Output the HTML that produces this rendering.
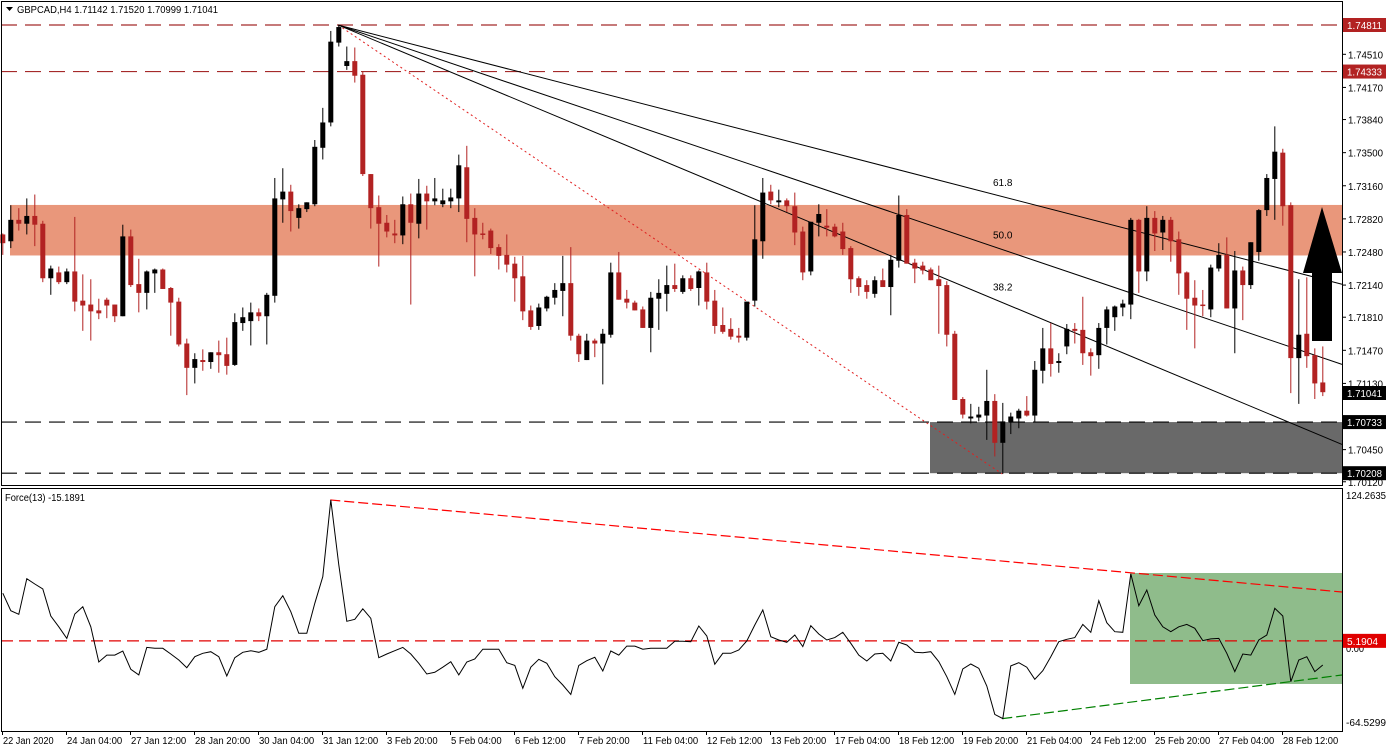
<!DOCTYPE html>
<html><head><meta charset="utf-8"><title>GBPCAD H4</title>
<style>
html,body{margin:0;padding:0;background:#fff;}
svg{display:block;font-family:"Liberation Sans",sans-serif;font-size:10px;}
</style></head>
<body>
<svg id="chart" width="1390" height="751" viewBox="0 0 1390 751" xmlns="http://www.w3.org/2000/svg">
<rect x="0" y="0" width="1390" height="751" fill="#fff"/>
<g id="main"></g>
<g id="ind"></g>
<g id="axes"></g>
</svg>
<script>
const opens=[1.7266,1.7259,1.7281,1.7277,1.7285,1.7277,1.7221,1.7227,1.7217,1.7228,
1.7198,1.7194,1.7188,1.7199,1.7194,1.7182,1.7264,1.7215,1.7206,1.7226,
1.7230,1.7211,1.7197,1.7154,1.7129,1.7137,1.7135,1.7145,1.7143,1.7132,
1.7175,1.7177,1.7186,1.7182,1.7203,1.7302,1.7310,1.7283,1.7292,1.7297,
1.7355,1.7381,1.7463,1.7439,1.7444,1.7430,1.7328,1.7294,1.7278,1.7267,
1.7265,1.7297,1.7277,1.7308,1.7300,1.7297,1.7300,1.7303,1.7335,1.7283,
1.7267,1.7270,1.7253,1.7245,1.7236,1.7223,1.7188,1.7172,1.7190,1.7201,
1.7208,1.7216,1.7162,1.7137,1.7157,1.7154,1.7163,1.7227,1.7200,1.7196,
1.7189,1.7170,1.7200,1.7205,1.7214,1.7207,1.7221,1.7211,1.7227,1.7198,
1.7173,1.7169,1.7162,1.7160,1.7198,1.7259,1.7310,1.7299,1.7301,1.7295,
1.7269,1.7228,1.7278,1.7275,1.7274,1.7269,1.7252,1.7221,1.7214,1.7205,
1.7219,1.7212,1.7239,1.7286,1.7237,1.7234,1.7230,1.7220,1.7214,1.7164,
1.7097,1.7077,1.7078,1.7080,1.7095,1.7052,1.7073,1.7077,1.7085,1.7080,
1.7126,1.7149,1.7134,1.7151,1.7169,1.7168,1.7145,1.7142,1.7170,1.7181,
1.7191,1.7194,1.7281,1.7228,1.7283,1.7268,1.7281,1.7261,1.7227,1.7201,
1.7194,1.7189,1.7231,1.7245,1.7190,1.7229,1.7214,1.7248,1.7291,1.7323,
1.7350,1.7296,1.7139,1.7164,1.7142,1.7114];
const highs=[1.7267,1.7296,1.7293,1.7303,1.7307,1.7280,1.7234,1.7233,1.7231,1.7284,
1.7225,1.7220,1.7200,1.7201,1.7194,1.7276,1.7271,1.7241,1.7229,1.7231,
1.7231,1.7212,1.7201,1.7159,1.7144,1.7148,1.7145,1.7157,1.7160,1.7185,
1.7191,1.7196,1.7190,1.7206,1.7324,1.7334,1.7317,1.7297,1.7299,1.7363,
1.7396,1.7475,1.7481,1.7459,1.7458,1.7433,1.7328,1.7306,1.7286,1.7281,
1.7305,1.7308,1.7323,1.7316,1.7324,1.7313,1.7313,1.7348,1.7357,1.7293,
1.7278,1.7272,1.7256,1.7266,1.7243,1.7244,1.7193,1.7195,1.7203,1.7216,
1.7244,1.7253,1.7164,1.7164,1.7159,1.7169,1.7237,1.7248,1.7209,1.7198,
1.7192,1.7207,1.7220,1.7234,1.7236,1.7224,1.7224,1.7229,1.7237,1.7209,
1.7191,1.7180,1.7170,1.7197,1.7296,1.7324,1.7317,1.7312,1.7303,1.7309,
1.7274,1.7279,1.7297,1.7292,1.7277,1.7278,1.7254,1.7223,1.7219,1.7223,
1.7231,1.7245,1.7306,1.7292,1.7241,1.7238,1.7232,1.7234,1.7218,1.7167,
1.7099,1.7092,1.7089,1.7127,1.7102,1.7093,1.7083,1.7087,1.7100,1.7136,
1.7170,1.7175,1.7144,1.7174,1.7175,1.7202,1.7149,1.7175,1.7192,1.7193,
1.7199,1.7283,1.7282,1.7295,1.7290,1.7285,1.7284,1.7269,1.7228,1.7219,
1.7209,1.7235,1.7257,1.7263,1.7249,1.7233,1.7258,1.7292,1.7328,1.7377,
1.7354,1.7299,1.7220,1.7222,1.7149,1.7151];
const lows=[1.7245,1.7252,1.7270,1.7266,1.7254,1.7217,1.7204,1.7215,1.7215,1.7187,
1.7167,1.7157,1.7179,1.7180,1.7176,1.7182,1.7212,1.7186,1.7189,1.7206,
1.7210,1.7162,1.7151,1.7101,1.7113,1.7126,1.7128,1.7124,1.7122,1.7131,
1.7167,1.7152,1.7177,1.7153,1.7196,1.7278,1.7269,1.7272,1.7289,1.7295,
1.7343,1.7377,1.7459,1.7435,1.7422,1.7326,1.7272,1.7233,1.7263,1.7257,
1.7256,1.7194,1.7262,1.7271,1.7296,1.7294,1.7293,1.7289,1.7258,1.7223,
1.7261,1.7246,1.7230,1.7227,1.7197,1.7178,1.7168,1.7168,1.7187,1.7194,
1.7182,1.7157,1.7135,1.7137,1.7140,1.7112,1.7160,1.7199,1.7190,1.7188,
1.7170,1.7145,1.7168,1.7187,1.7207,1.7205,1.7208,1.7193,1.7189,1.7164,
1.7164,1.7158,1.7155,1.7157,1.7192,1.7241,1.7297,1.7294,1.7289,1.7255,
1.7219,1.7224,1.7264,1.7264,1.7263,1.7245,1.7206,1.7203,1.7200,1.7201,
1.7212,1.7183,1.7232,1.7236,1.7216,1.7225,1.7219,1.7164,1.7151,1.7096,
1.7077,1.7072,1.7074,1.7055,1.7038,1.7020,1.7061,1.7067,1.7079,1.7073,
1.7113,1.7120,1.7124,1.7143,1.7154,1.7132,1.7121,1.7128,1.7153,1.7167,
1.7182,1.7179,1.7206,1.7218,1.7249,1.7250,1.7238,1.7204,1.7168,1.7149,
1.7182,1.7181,1.7228,1.7190,1.7144,1.7178,1.7210,1.7239,1.7285,1.7281,
1.7275,1.7103,1.7092,1.7129,1.7097,1.7100];
const closes=[1.7257,1.7281,1.7277,1.7285,1.7276,1.7221,1.7231,1.7217,1.7228,1.7197,
1.7193,1.7187,1.7185,1.7193,1.7182,1.7264,1.7214,1.7206,1.7228,1.7230,
1.7210,1.7196,1.7153,1.7129,1.7138,1.7135,1.7145,1.7142,1.7131,1.7176,
1.7181,1.7186,1.7182,1.7204,1.7303,1.7310,1.7290,1.7293,1.7299,1.7356,
1.7381,1.7464,1.7479,1.7444,1.7429,1.7328,1.7293,1.7277,1.7269,1.7265,
1.7297,1.7278,1.7308,1.7300,1.7303,1.7301,1.7304,1.7337,1.7282,1.7266,
1.7266,1.7252,1.7244,1.7235,1.7221,1.7187,1.7171,1.7191,1.7202,1.7209,
1.7216,1.7162,1.7143,1.7157,1.7154,1.7164,1.7227,1.7199,1.7196,1.7188,
1.7170,1.7201,1.7206,1.7214,1.7210,1.7221,1.7210,1.7228,1.7197,1.7172,
1.7166,1.7161,1.7160,1.7197,1.7261,1.7309,1.7301,1.7301,1.7295,1.7268,
1.7227,1.7279,1.7287,1.7273,1.7264,1.7251,1.7220,1.7212,1.7207,1.7219,
1.7212,1.7240,1.7286,1.7236,1.7231,1.7229,1.7219,1.7213,1.7163,1.7096,
1.7081,1.7079,1.7081,1.7095,1.7052,1.7074,1.7079,1.7085,1.7080,1.7127,
1.7149,1.7133,1.7136,1.7169,1.7167,1.7144,1.7141,1.7170,1.7189,1.7192,
1.7195,1.7281,1.7228,1.7283,1.7267,1.7281,1.7259,1.7226,1.7200,1.7193,
1.7193,1.7232,1.7245,1.7190,1.7229,1.7214,1.7258,1.7291,1.7324,1.7351,
1.7295,1.7139,1.7163,1.7141,1.7113,1.7104];
const force=[45.4,30.7,27.6,57.7,53.2,49.0,26.2,17.1,7.3,27.9,
34.0,17.1,-12.7,-6.8,-6.8,-3.4,-18.8,-23.6,-0.3,-1.1,
-1.1,-5.9,-11.0,-17.5,-8.2,-5.3,-4.0,-8.2,-24.5,-9.0,
-4.5,-3.1,-4.5,-1.9,34.0,43.3,29.8,11.6,11.6,36.9,
59.4,124.2,69.3,21.7,23.4,32.3,24.2,-9.0,-5.9,-3.1,
-0.3,-5.9,-13.8,-22.8,-21.4,-17.1,-12.4,-23.6,-12.7,-10.1,
-1.9,-1.9,-1.9,-13.3,-15.5,-34.9,-17.1,-10.4,-13.8,-25.1,
-32.1,-40.0,-15.5,-11.6,-8.7,-20.3,-3.4,-6.8,0.8,0.8,
-1.9,-1.1,-1.1,-1.1,4.8,4.8,4.5,17.7,9.3,-14.6,
-5.3,-5.3,-2.5,5.1,18.6,31.3,8.7,5.9,4.0,10.1,
0.3,18.0,11.0,5.9,7.9,12.4,3.1,-6.8,-11.8,-5.9,
-5.3,-11.8,4.0,1.7,-4.5,-4.8,-4.0,-12.4,-25.1,-40.0,
-18.6,-14.4,-18.0,-32.9,-56.9,-60.5,-16.0,-13.3,-17.1,-27.3,
-20.0,-8.2,4.5,6.5,7.9,19.1,12.4,39.1,20.5,12.9,
12.4,61.7,34.9,48.1,27.0,17.1,12.9,17.1,19.1,15.8,
5.4,6.8,7.3,-5.3,-20.8,-5.9,-6.8,5.9,10.1,32.7,
26.2,-29.3,-11.0,-8.2,-20.8,-15.2];
const priceTicks=[1.74510,1.74170,1.73840,1.73500,1.73160,1.72820,1.72480,1.72140,1.71810,1.71470,1.71130,1.70450,1.70120];
const timeLabels=["22 Jan 2020","24 Jan 04:00","27 Jan 12:00","28 Jan 20:00","30 Jan 04:00","31 Jan 12:00","3 Feb 20:00","5 Feb 04:00","6 Feb 12:00","7 Feb 20:00","11 Feb 04:00","12 Feb 12:00","13 Feb 20:00","17 Feb 04:00","18 Feb 12:00","19 Feb 20:00","21 Feb 04:00","24 Feb 12:00","25 Feb 20:00","27 Feb 04:00","28 Feb 12:00"];
const levelsRed=[1.74811,1.74333];
const levelsBlack=[1.70733,1.70208];
const zoneOrange=[1.72963,1.72444];
const forceLevel=5.1904;

const NS="http://www.w3.org/2000/svg";
const PR=1342;
function xi(i){return 2.3+8*i;}
function yp(p){return 25+(1.74811-p)/0.0001027;}
function yf(v){return 647-v*1.184;}
function mk(tag,attrs,parent){const e=document.createElementNS(NS,tag);for(const k in attrs)e.setAttribute(k,attrs[k]);parent.appendChild(e);return e;}
function fit(el,len){el.setAttribute('textLength',len);el.setAttribute('lengthAdjust','spacingAndGlyphs');}
const main=document.getElementById('main'),ind=document.getElementById('ind'),axes=document.getElementById('axes');

let z=mk('rect',{x:10,y:yp(zoneOrange[0]),width:PR-10,height:yp(zoneOrange[1])-yp(zoneOrange[0]),fill:'#e9977b'},main);


let g=mk('rect',{x:930,y:yp(levelsBlack[0]),width:PR-930,height:yp(levelsBlack[1])-yp(levelsBlack[0]),fill:'#696969'},main);


levelsRed.forEach(p=>{const l=mk('line',{x1:1,x2:PR,y1:yp(p),y2:yp(p),stroke:'#a52a2a','stroke-width':1.2,'stroke-dasharray':'16 8'},main);

});
levelsBlack.forEach(p=>{const l=mk('line',{x1:1,x2:PR,y1:yp(p),y2:yp(p),stroke:'#000','stroke-width':1.2,'stroke-dasharray':'16 8'},main);

});
const hiI=42,loI=125;
const x0=xi(hiI),y0=yp(highs[hiI]),x1=xi(loI),y1=yp(lows[loI]);
let dl=mk('line',{x1:x0,y1:y0,x2:x1,y2:y1,stroke:'#e02020','stroke-width':1,'stroke-dasharray':'2 3'},main);


[[0.618,'61.8'],[0.5,'50.0'],[0.382,'38.2']].forEach(([r,t])=>{
 const yy=y0+(y1-y0)*(1-r); const s=(yy-y0)/(x1-x0);
 const l=mk('line',{x1:x0,y1:y0,x2:PR,y2:y0+s*(PR-x0),stroke:'#000','stroke-width':1},main);
 
 
 const tx=mk('text',{x:993,y:y0+s*(993-x0)-8,fill:'#000'},main);tx.textContent=t;
 
 
});
for(let i=0;i<opens.length;i++){
 const x=xi(i),up=closes[i]>=opens[i],col=up?'#000':'#b22222';
 const w=mk('line',{x1:x+0.5,x2:x+0.5,y1:yp(highs[i]),y2:yp(lows[i]),stroke:col,'stroke-width':1},main);
 
 
 const t=Math.min(yp(opens[i]),yp(closes[i])),h=Math.max(1.5,Math.abs(yp(opens[i])-yp(closes[i])));
 const b=mk('rect',{x:x-2,y:t,width:5,height:h,fill:col},main);
 
 
}
let ar=mk('path',{d:'M1312 341 L1312 273 L1303 273 L1322 207 L1342 273 L1332 273 L1332 341 Z',fill:'#000'},main);



let gr=mk('rect',{x:1130,y:573,width:PR-1130,height:111,fill:'#8fbc8b'},ind);


let fl=mk('line',{x1:1,x2:PR,y1:yf(forceLevel),y2:yf(forceLevel),stroke:'#e00000','stroke-width':1.2,'stroke-dasharray':'12 6'},ind);


const fMax=41,fMin=125;
let rl=mk('line',{x1:xi(fMax),y1:yf(force[fMax]),x2:PR,y2:592,stroke:'#ff0000','stroke-width':1.2,'stroke-dasharray':'10 4'},ind);


let gl=mk('line',{x1:xi(fMin),y1:yf(force[fMin]),x2:PR,y2:675,stroke:'#008000','stroke-width':1.2,'stroke-dasharray':'10 4'},ind);


let pts=force.map((v,i)=>(xi(i)+0.5).toFixed(1)+','+yf(v).toFixed(1)).join(' ');
let pl=mk('polyline',{points:pts,fill:'none',stroke:'#000','stroke-width':1},ind);



[[1,1,PR-1,484],[1,488,PR-1,243]].forEach(r=>{const f=mk('rect',{x:r[0]+0.5,y:r[1]+0.5,width:r[2],height:r[3],fill:'none',stroke:'#000','stroke-width':1},axes);

});
priceTicks.forEach(p=>{const y=yp(p);
 const tk=mk('line',{x1:PR,x2:PR+4,y1:y,y2:y,stroke:'#000'},axes);
 
 
 const t=mk('text',{x:1348,y:y+4,fill:'#000'},axes);t.textContent=p.toFixed(5);fit(t,35);
 
 });
function tag(p,txt,bg,parent,y){const yy=y!==undefined?y:yp(p);
 const r=mk('rect',{x:1343,y:yy-7,width:43,height:14,fill:bg},parent);
 
 
 const t=mk('text',{x:1347,y:yy+4,fill:'#fff'},parent);t.textContent=txt;fit(t,txt.length>6?35:31);
 
 }
tag(levelsRed[0],'1.74811','#b22222',axes);
tag(levelsRed[1],'1.74333','#b22222',axes);
tag(closes[closes.length-1],'1.71041','#000',axes,393);
tag(levelsBlack[0],'1.70733','#000',axes);
tag(levelsBlack[1],'1.70208','#000',axes);
[['124.2635',495,40],['0.00',648,18],['-64.5299',722,40]].forEach(([t,y,w])=>{const e=mk('text',{x:1346,y:y+4,fill:'#000'},axes);e.textContent=t;fit(e,w);
 
 });
tag(forceLevel,'5.1904','#e00000',axes,yf(forceLevel));
timeLabels.forEach((t,n)=>{const x=2+64*n;
 const tk=mk('line',{x1:x+0.5,x2:x+0.5,y1:731,y2:735,stroke:'#000'},axes);
 
 
 const e=mk('text',{x:x+1,y:744,fill:'#000'},axes);e.textContent=t;fit(e,t.length*4.6);
 
 });
let tt=mk('text',{x:17,y:13,fill:'#000'},axes);tt.textContent='GBPCAD,H4  1.71142 1.71520 1.70999 1.71041';fit(tt,201);


let tri=mk('path',{d:'M6 7 L13 7 L9.5 11 Z',fill:'#000'},axes);


let ft=mk('text',{x:5,y:501,fill:'#000'},axes);ft.textContent='Force(13) -15.1891';fit(ft,80);


</script>
</body></html>
